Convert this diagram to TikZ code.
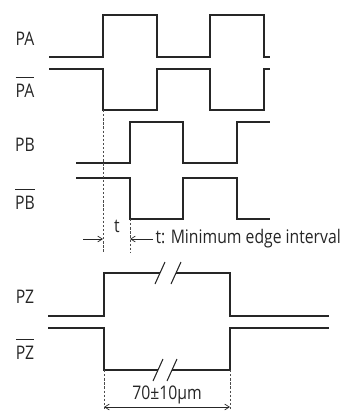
\documentclass[tikz,border=0pt]{standalone}
\usepackage{fontspec}
\setmainfont{Open Sans}[FakeStretch=0.84]
\usepackage{tikz}
\usetikzlibrary{arrows.meta, positioning}
\newcommand{\ovl}[1]{\ensuremath{\overline{\rule{0pt}{1.0em}\mbox{#1}}}}

\begin{document}
\begin{tikzpicture}[
          x=0.03cm, y=-0.03cm,
          wave/.style={line width=0.9pt, black!85},
          guide/.style={dash pattern=on 2pt off 1.5pt, line width=0.4pt, black!70},
          sig/.style={font=\fontsize{16}{17}\selectfont, text=black!85},
          note/.style={font=\fontsize{16}{17}\selectfont, text=black!85, inner sep=2pt},
          dimarr/.style={-{Straight Barb[length=4pt, width=5pt]}, line width=0.6pt, black!85},
          brk/.style={line width=0.9pt, black!85}
        ]
        \useasboundingbox (0,0) rectangle (343,411);
        % signal labels
        \node[sig] (pa) at (25,39) {PA};
        \node[sig] (pan) at (25,87) {\ovl{PA}};
        \node[sig] (pb) at (25,145) {PB};
        \node[sig] (pbn) at (25,199) {\ovl{PB}};
        \node[sig] (pz) at (25,297) {PZ};
        \node[sig] (pzn) at (25,349) {\ovl{PZ}};
        % channel A
        \draw[wave] (49,57) -- (103,57) -- (103,15) -- (157,15) -- (157,57) -- (210,57)
          -- (210,15) -- (264,15) -- (264,57) -- (270,57);
        \draw[wave] (49,69) -- (103,69) -- (103,110) -- (157,110) -- (157,69) -- (210,69)
          -- (210,110) -- (264,110) -- (264,69) -- (270,69);
        % channel B
        \draw[wave] (76,163) -- (130,163) -- (130,122) -- (183,122) -- (183,163) -- (237,163)
          -- (237,122) -- (270,122);
        \draw[wave] (76,178) -- (130,178) -- (130,219) -- (183,219) -- (183,178) -- (237,178)
          -- (237,219) -- (270,219);
        % edge interval
        \coordinate (ea) at (103,239);
        \coordinate (eb) at (130,239);
        \coordinate (eL) at (83,239);
        \draw[guide] (103,110) -- (103,252);
        \draw[guide] (130,219) -- (130,252);
        \node[note, anchor=west] (tnote) at (153,239) {t: Minimum edge interval};
        \node[note] (tlbl) at (117,226) {t};
        \draw[dimarr] (eL) -- (ea);
        \draw[dimarr] (tnote.west) -- (eb);
        % channel Z
        \draw[wave] (48,316) -- (104,316) -- (104,273) -- (160,273);
        \draw[wave] (176,273) -- (230,273) -- (230,316) -- (329,316);
        \draw[brk] (155,284) -- (165,262);
        \draw[brk] (171,284) -- (181,262);
        \draw[wave] (48,328) -- (104,328) -- (104,370) -- (158,370);
        \draw[wave] (172,370) -- (230,370) -- (230,328) -- (329,328);
        \draw[brk] (153,381) -- (163,359);
        \draw[brk] (167,381) -- (177,359);
        % pulse width
        \coordinate (za) at (104,407);
        \coordinate (zb) at (230,407);
        \draw[guide] (104,370) -- (104,409);
        \draw[guide] (230,370) -- (230,409);
        \draw[dimarr, {Straight Barb[length=4pt, width=5pt]}-{Straight Barb[length=4pt, width=5pt]}] (za) -- (zb);
        \node[note] (zw) at (167,395) {70±10µm};
      \end{tikzpicture}
\end{document}
